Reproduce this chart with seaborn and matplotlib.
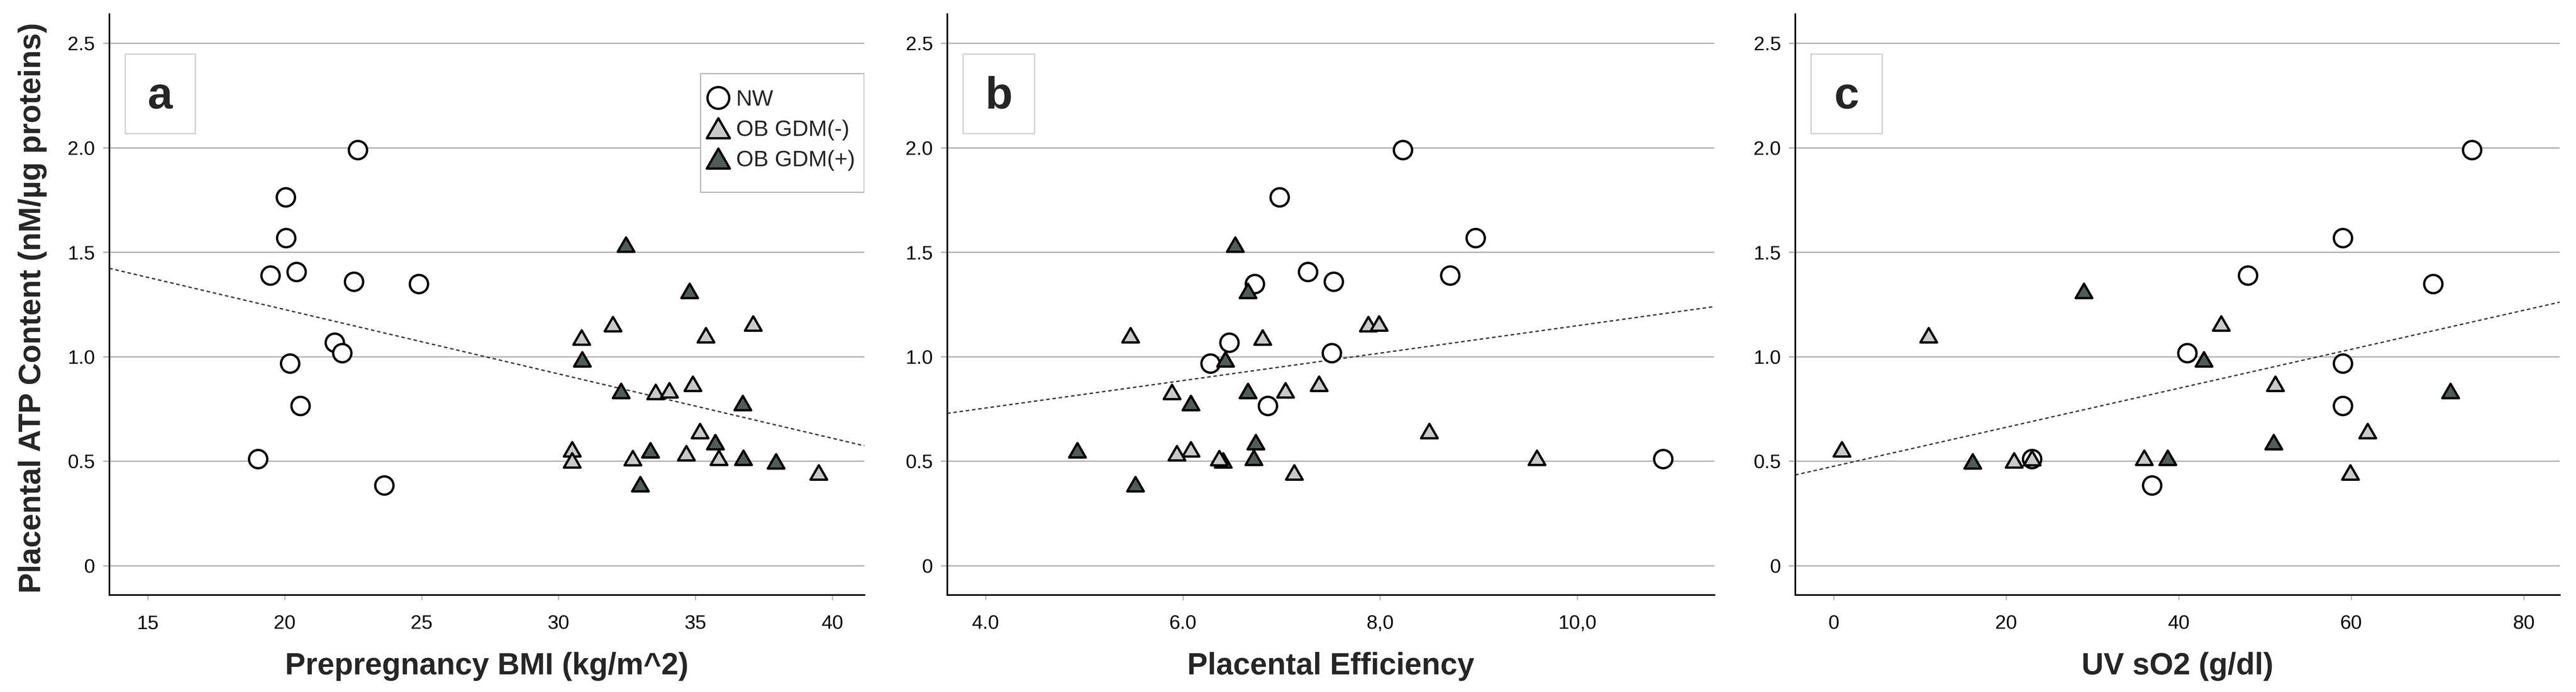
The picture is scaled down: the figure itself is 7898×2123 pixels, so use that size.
import numpy as np
import pandas as pd
import matplotlib
matplotlib.use("Agg")
import matplotlib.pyplot as plt
import seaborn as sns
from matplotlib.markers import MarkerStyle
from matplotlib.lines import Line2D
from matplotlib.patches import Rectangle
from matplotlib.path import Path

# ---------------- data ----------------
groups = ["NW", "OB GDM(-)", "OB GDM(+)"]

# NW (open circles)
atp_nw = [1.99, 1.764, 1.569, 1.39, 1.407, 1.36, 1.349, 1.068, 1.019, 0.969, 0.766, 0.512, 0.385]
bmi_nw = [22.67, 20.03, 20.05, 19.47, 20.43, 22.53, 24.9, 21.82, 22.1, 20.19, 20.57, 19.02, 23.63]
eff_nw = [8.23, 6.98, 8.97, 8.71, 7.27, 7.53, 6.73, 6.47, 7.51, 6.28, 6.86, 10.87, np.nan]
so2_nw = [74.0, np.nan, 59.0, 48.0, np.nan, np.nan, 69.5, np.nan, 41.0, 59.0, 59.0, 23.0, 36.9]

# OB GDM(-) (light grey triangles)
atp_neg = [1.157, 1.094, 1.161, 1.104, 0.833, 0.840, 0.871, 0.645, 0.558, 0.505, 0.516, 0.539, 0.518, 0.448]
bmi_neg = [31.98, 30.84, 37.11, 35.38, 33.55, 34.05, 34.9, 35.16, 30.49, 30.49, 32.71, 34.66, 35.86, 39.5]
eff_neg = [7.88, 6.81, 7.99, 5.47, 5.89, 7.04, 7.38, 8.50, 6.08, 6.41, 6.37, 5.94, 9.59, 7.13]
so2_neg = [np.nan, np.nan, 44.9, 11.0, np.nan, np.nan, 51.2, 61.9, 0.96, 20.9, 23.0, np.nan, 36.0, 59.9]

# OB GDM(+) (dark triangles)
atp_pos = [1.538, 1.316, 0.988, 0.838, 0.780, 0.592, 0.554, 0.518, 0.501, 0.391]
bmi_pos = [32.46, 34.78, 30.86, 32.28, 36.73, 35.72, 33.35, 36.75, 37.94, 32.99]
eff_pos = [6.53, 6.66, 6.43, 6.66, 6.08, 6.74, 4.93, 6.72, np.nan, 5.52]
so2_pos = [np.nan, 29.0, 42.9, 71.5, np.nan, 51.0, np.nan, 38.7, 16.1, np.nan]

y_ticks = [0, 0.5, 1.0, 1.5, 2.0, 2.5]
y_ticklabels = ["0", "0.5", "1.0", "1.5", "2.0", "2.5"]

bmi_ticks = [15, 20, 25, 30, 35, 40]
bmi_ticklabels = ["15", "20", "25", "30", "35", "40"]
eff_ticks = [4, 6, 8, 10]
eff_ticklabels = ["4.0", "6.0", "8,0", "10,0"]
so2_ticks = [0, 20, 40, 60, 80]
so2_ticklabels = ["0", "20", "40", "60", "80"]

panel_letters = ["a", "b", "c"]
x_labels = ["Prepregnancy BMI (kg/m^2)", "Placental Efficiency", "UV sO2 (g/dl)"]
y_label = "Placental ATP Content (nM/\u00b5g proteins)"

# ---------------- table ----------------
frames = []
for g, atp, bmi, eff, so2 in [
    (groups[0], atp_nw, bmi_nw, eff_nw, so2_nw),
    (groups[1], atp_neg, bmi_neg, eff_neg, so2_neg),
    (groups[2], atp_pos, bmi_pos, eff_pos, so2_pos),
]:
    frames.append(pd.DataFrame({"group": g, "atp": atp, "bmi": bmi, "eff": eff, "so2": so2}))
df = pd.concat(frames, ignore_index=True)

# ---------------- style ----------------
sns.set_theme(style="white")
plt.rcParams["font.family"] = ["Liberation Sans", "DejaVu Sans"]
label_font = ["Liberation Sans", "DejaVu Sans"]

GRID = "#b3b3b3"
tri_path = Path([(0, 0.433), (-0.5, -0.433), (0.5, -0.433), (0, 0.433)],
                [Path.MOVETO, Path.LINETO, Path.LINETO, Path.CLOSEPOLY])
tri_marker = MarkerStyle(tri_path, joinstyle="miter")

styles = {
    "NW": dict(marker="o", color="white", s=180),
    "OB GDM(-)": dict(marker=tri_marker, color="#c9c9c9", s=150),
    "OB GDM(+)": dict(marker=tri_marker, color="#4f5d59", s=150),
}

W, H = 7898, 2123
fig = plt.figure(figsize=(W / 300, H / 300), dpi=300)

rects = [
    (335 / W, 0.1404, (2650 - 335) / W, 0.8394),
    (2904 / W, 0.1404, (5256 - 2904) / W, 0.8394),
    (5504 / W, 0.1404, (7848 - 5504) / W, 0.8394),
]
panels = [
    ("bmi", (13.59, 41.17), bmi_ticks, bmi_ticklabels),
    ("eff", (3.61, 11.39), eff_ticks, eff_ticklabels),
    ("so2", (-4.46, 84.16), so2_ticks, so2_ticklabels),
]

for i, (rect, (xcol, xlim, xt, xtl)) in enumerate(zip(rects, panels)):
    ax = fig.add_axes(rect)
    ax.set_xlim(*xlim)
    ax.set_ylim(-0.139, 2.641)
    ax.set_yticks(y_ticks)
    ax.set_yticklabels(y_ticklabels)
    ax.set_xticks(xt)
    ax.set_xticklabels(xtl)
    ax.yaxis.grid(True, color=GRID, lw=1.0, zorder=0)
    ax.xaxis.grid(False)
    ax.set_axisbelow(True)
    for sp in ["top", "right"]:
        ax.spines[sp].set_visible(False)
    for sp in ["left", "bottom"]:
        ax.spines[sp].set_color("black")
        ax.spines[sp].set_linewidth(1.2)
    ax.tick_params(axis="y", direction="out", length=4.5, width=1.0, color=GRID,
                   labelsize=14.5, pad=6, labelcolor="black", left=True)
    ax.tick_params(axis="x", direction="out", length=3.8, width=0.8, color=GRID,
                   labelsize=14.5, pad=11, labelcolor="black", bottom=True)

    # regression line over all points
    sns.regplot(data=df, x=xcol, y="atp", scatter=False, ci=None, truncate=False, ax=ax,
                line_kws=dict(color="#3a3a3a", lw=1.0, ls=(0, (2.6, 2.0)), zorder=2))
    ax.set_xlim(*xlim)

    for g in groups:
        st = styles[g]
        sub = df[df["group"] == g]
        sns.scatterplot(data=sub, x=xcol, y="atp", ax=ax, marker=st["marker"], s=st["s"],
                        color=st["color"], edgecolor="black", linewidth=1.7, zorder=3,
                        legend=False)

    ax.set_xlabel(x_labels[i], fontsize=22.5, fontweight="bold", family=label_font,
                  labelpad=14)
    ax.set_ylabel("")

    # panel letter box
    ax.add_patch(Rectangle((0.021, 0.794), 0.093, 0.137, transform=ax.transAxes,
                           fill=False, edgecolor="#d2d2d2", lw=1.0, zorder=4))
    ax.text(0.0675, 0.857, panel_letters[i], transform=ax.transAxes, ha="center",
            va="center", fontsize=33, fontweight="bold", zorder=5)

    if i == 0:
        handles = [
            Line2D([], [], ls="none", marker="o", ms=16, mfc="white", mec="black", mew=1.7),
            Line2D([], [], ls="none", marker=tri_marker, ms=17, mfc="#c9c9c9", mec="black", mew=1.7),
            Line2D([], [], ls="none", marker=tri_marker, ms=17, mfc="#4f5d59", mec="black", mew=1.7),
        ]
        ax.add_patch(Rectangle((0.783, 0.693), 0.217, 0.204, transform=ax.transAxes,
                               facecolor="white", edgecolor="#b8b8b8", lw=0.9, zorder=4))
        leg = ax.legend(handles, groups, loc="upper left", bbox_to_anchor=(0.784, 0.878),
                        frameon=False, fontsize=16.5, handlelength=1.1, handletextpad=0.25,
                        labelspacing=0.42, borderpad=0.2, borderaxespad=0)
        leg.set_zorder(6)

fig.text(100 / W, 1 - 945 / H, y_label, rotation=90, ha="center", va="center",
         fontsize=22.5, fontweight="bold", family=label_font)

fig.savefig("out.png", dpi=300, facecolor="white")
